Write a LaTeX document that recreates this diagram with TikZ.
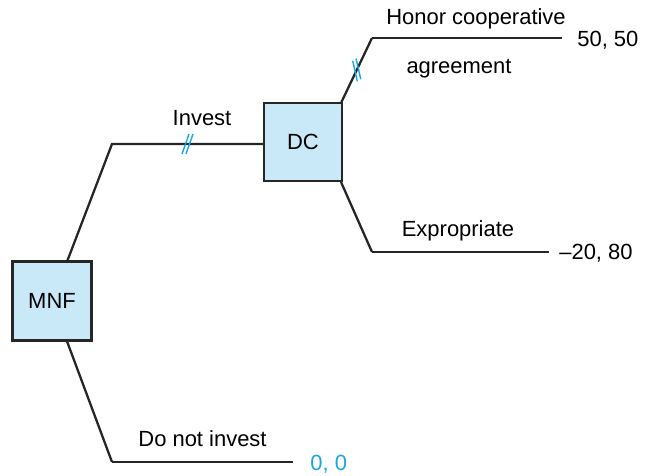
\documentclass[tikz,border=0pt]{standalone}
\usepackage{fontspec}
\setmainfont{Liberation Sans}
\definecolor{boxblue}{HTML}{C9E9F9}
\definecolor{hashblue}{HTML}{1AA7E1}
\tikzset{
  player/.style={draw=black!85, line width=1.4pt, fill=boxblue, minimum size=1.58cm, inner sep=0pt},
  branch/.style={draw=black!85, line width=1.3pt},
  label/.style={anchor=base, inner sep=0pt},
  pay/.style={anchor=base west, inner sep=0pt},
  hash/.pic={
    \draw[hashblue, line width=0.8pt] (-0.11cm,-0.2cm) -- (0.03cm,0.2cm);
    \draw[hashblue, line width=0.8pt] (-0.03cm,-0.2cm) -- (0.11cm,0.2cm);
  }
}
\begin{document}
\begin{tikzpicture}[x=0.02cm, y=-0.02cm, font=\fontsize{12.5}{14}\selectfont]
        \useasboundingbox (0,0) rectangle (646,476);

        % Decision nodes
        \node[player] (mnf) at (52,301) {MNF};
        \node[player, minimum size=1.55cm] (dc) at (303,142) {DC};

        % Branch corners
        \coordinate (inv) at (112,144);
        \coordinate (noinv) at (112,462);
        \coordinate (hon) at (372,38);
        \coordinate (exp) at (372,252);

        % Payoffs
        \node[pay] (p1) at (577,47) {50, 50};
        \node[pay] (p2) at (559,260) {\textendash20, 80};
        \node[pay, text=hashblue] (p3) at (310,470) {0, 0};

        % Branches
        \draw[branch] (mnf) -- (inv) -- (inv -| dc.west) pic[pos=0.5] {hash};
        \draw[branch] (mnf) -- (noinv);
        \draw[branch, shorten >=0.34cm] (noinv) -- (noinv -| p3.west);
        \draw[branch] ([xshift=-0.03cm]dc.north east) -- (hon) pic[pos=0.5, rotate=32] {hash};
        \draw[branch, shorten >=0.3cm] (hon) -- (hon -| p1.west);
        \draw[branch] ([xshift=-0.04cm]dc.south east) -- (exp);
        \draw[branch, shorten >=0.2cm] (exp) -- (exp -| p2.west);

        % Branch labels
        \node[label] (linv) at (202,126) {Invest};
        \node[label] (lnoinv) at (202.5,446) {Do not invest};
        \node[label] (lhon) at (476,25) {Honor cooperative};
        \node[label] (lagr) at (459,74) {agreement};
        \node[label] (lexp) at (458,237) {Expropriate};
    \end{tikzpicture}
\end{document}
